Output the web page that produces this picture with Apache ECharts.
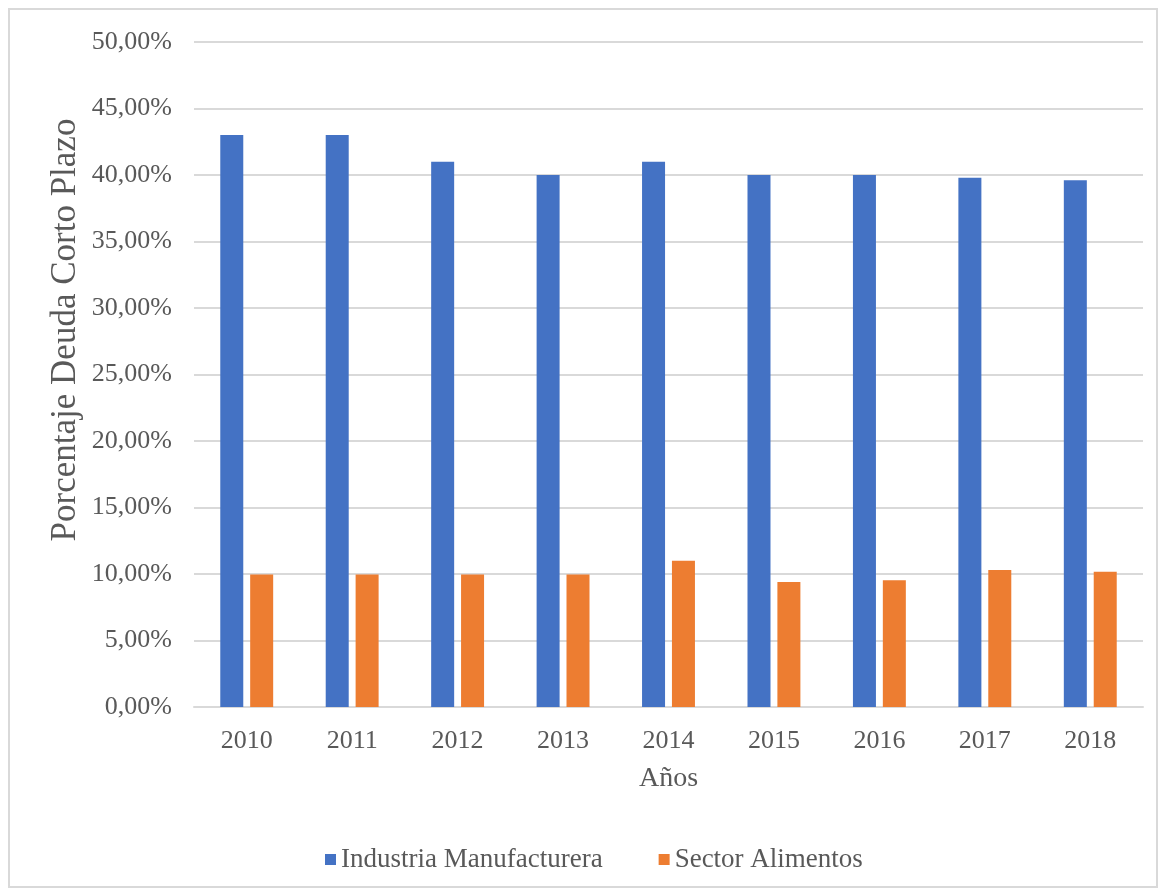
<!DOCTYPE html>
<html>
<head>
<meta charset="utf-8">
<script src="https://cdn.jsdelivr.net/npm/echarts@6/dist/echarts.min.js"></script>
<style>
html,body{margin:0;padding:0;background:#fff;}
#frame{position:absolute;left:8px;top:8px;width:1150px;height:880px;border:2px solid #d9d9d9;box-sizing:border-box;}
#chart{position:absolute;left:0;top:0;width:1168px;height:890px;}
</style>
</head>
<body>
<div id="frame"></div>
<div id="chart"></div>
<script>
const categories = ['2010','2011','2012','2013','2014','2015','2016','2017','2018'];
const industria = [43.0, 43.0, 41.0, 40.0, 41.0, 40.0, 40.0, 39.8, 39.6];
const alimentos = [9.97, 9.97, 9.97, 9.97, 11.0, 9.4, 9.53, 10.3, 10.17];
const seriesNames = ['Industria Manufacturera', 'Sector Alimentos'];
const yTicks = {min: 0, max: 50, interval: 5};
const yTitle = 'Porcentaje Deuda Corto Plazo';
const xTitle = 'Años';

const font = 'Liberation Serif';
const textColor = '#595959';
const chart = echarts.init(document.getElementById('chart'));
chart.setOption({
  animation: false,
  textStyle: {fontFamily: font},
  grid: {left: 194, right: 25, top: 42, bottom: 183, containLabel: false},
  legend: {
    top: 841, left: 320,
    itemWidth: 11, itemHeight: 11, itemGap: 56,
    icon: 'rect',
    textStyle: {fontFamily: font, fontSize: 27, color: textColor},
    data: seriesNames
  },
  graphic: [{
    type: 'text',
    x: 66, y: 330,
    rotation: Math.PI / 2,
    style: {
      text: yTitle, fill: textColor,
      font: '35px "Liberation Serif"',
      textAlign: 'center', textVerticalAlign: 'middle'
    }
  }],
  xAxis: {
    type: 'category',
    data: categories,
    name: xTitle,
    nameLocation: 'middle',
    nameGap: 58,
    nameTextStyle: {fontFamily: font, fontSize: 28, color: textColor},
    axisLine: {lineStyle: {color: '#d9d9d9', width: 2}},
    axisTick: {show: false},
    axisLabel: {fontFamily: font, fontSize: 26, color: textColor, margin: 21}
  },
  yAxis: {
    type: 'value',
    min: yTicks.min, max: yTicks.max, interval: yTicks.interval,
    axisLine: {show: false},
    axisTick: {show: false},
    splitLine: {lineStyle: {color: '#d9d9d9', width: 2}},
    axisLabel: {
      fontFamily: font, fontSize: 26, color: textColor, margin: 22,
      formatter: v => v.toFixed(2).replace('.', ',') + '%'
    }
  },
  series: [
    {name: seriesNames[0], type: 'bar', data: industria, barWidth: 23, barGap: '30%',
     itemStyle: {color: '#4472c4'}},
    {name: seriesNames[1], type: 'bar', data: alimentos, barWidth: 23,
     itemStyle: {color: '#ed7d31'}}
  ]
});
</script>
</body>
</html>
